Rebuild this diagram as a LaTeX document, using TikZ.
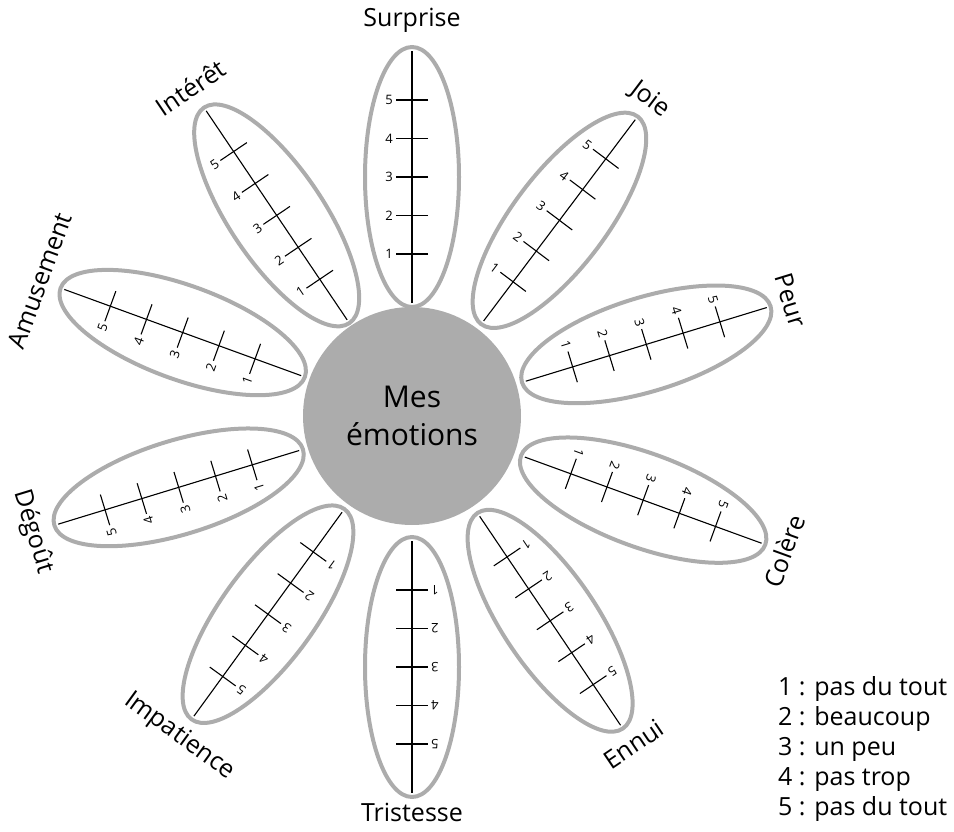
\documentclass[tikz,border=0pt]{standalone}
\usepackage{fontspec}
\setmainfont{Open Sans}
\definecolor{petalgray}{RGB}{172,172,172}

\begin{document}
\begin{tikzpicture}[x=1pt,y=1pt]
  \useasboundingbox (0,0) rectangle (954,-832);

  % Define styles for the petals, the scales and the texts
  \tikzset{
    petal/.style={draw=petalgray, line width=4pt},
    scaleline/.style={line width=1.1pt, black},
    digit/.style={font=\fontsize{13}{13}\selectfont, inner sep=0pt},
    petallabel/.style={font=\fontsize{25}{25}\selectfont, inner sep=0pt},
    legendline/.style={font=\fontsize{25}{25}\selectfont, anchor=base west, inner sep=0pt}
  }

  % Heart of the flower
  \coordinate (ctr) at (412,-416);
  \node[circle, fill=petalgray, minimum size=218, inner sep=0pt, align=center,
        font=\fontsize{30}{38}\selectfont] (heart) at (ctr) {Mes\\émotions};

  % Draw the petals with their scales and names
  \foreach \pang/\pdist/\petname/\labrot [count=\i] in
    {90/239/Surprise/0, 53/245/Joie/-37, 17/245/Peur/-73, -20/246/Colère/70,
     -56/247/Ennui/34, -90/251/Tristesse/0, -126/245/Impatience/-36,
     197/244/Dégoût/-73, 160/244/Amusement/70, 124/242/Intérêt/34}{
    \begin{scope}[shift={(ctr)}, rotate=\pang]
      \draw[petal] (\pdist,0) ellipse [x radius=130, y radius=47];
      \draw[scaleline] ({\pdist-126},0) -- ({\pdist+126},0);
      \foreach \k in {1,...,5}{
        \draw[scaleline] ({\pdist+38.5*(\k-3)},-16) -- ++(0,32);
        \node[digit, rotate=\pang-90] (d\i-\k) at ({\pdist+38.5*(\k-3)},23) {\k};
      }
    \end{scope}
    \node[petallabel, rotate=\labrot] (lab\i) at ([shift={(\pang:396)}]ctr) {\petname};
  }

  % Legend of the scale
  \foreach \txt [count=\j] in {1 : pas du tout, 2 : beaucoup, 3 : un peu, 4 : pas trop, 5 : pas du tout}
    \node[legendline] (leg\j) at (778,{-695-30*(\j-1)}) {\txt};

\end{tikzpicture}
\end{document}
